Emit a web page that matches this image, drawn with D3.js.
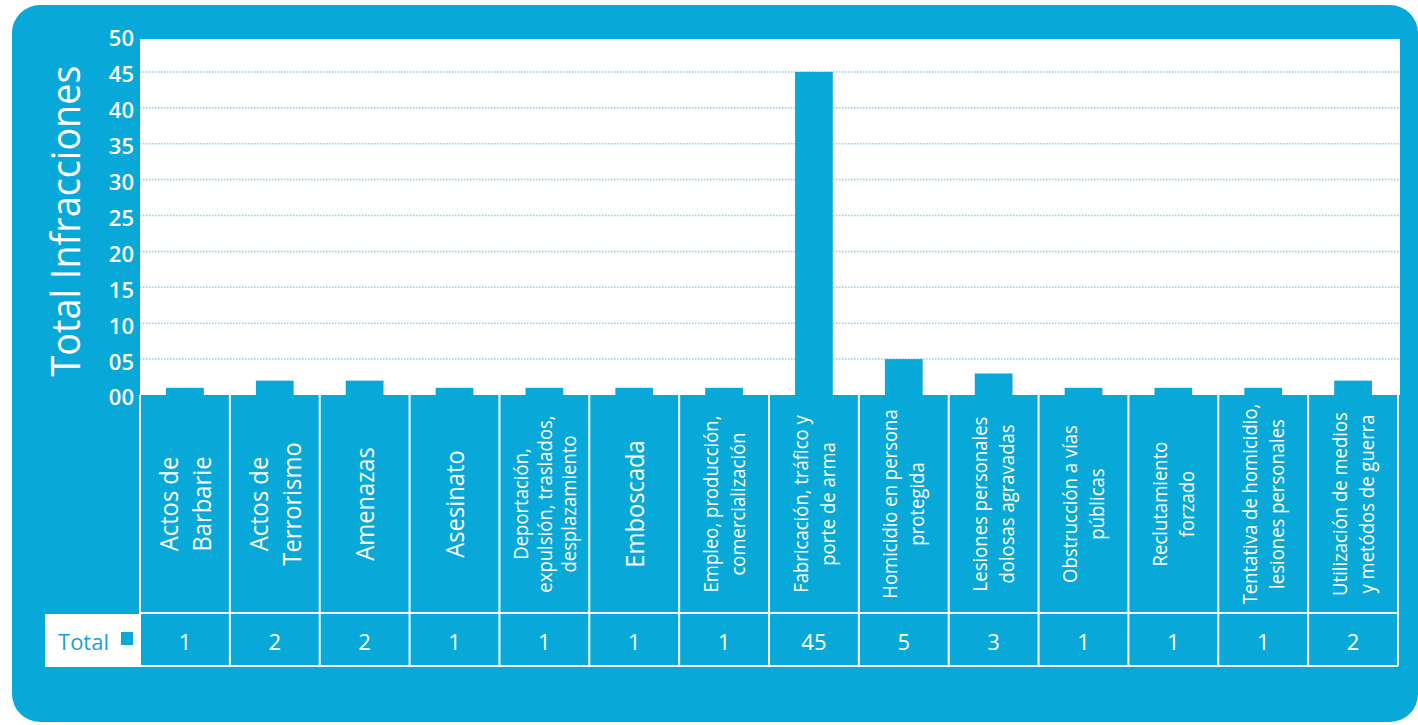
<!DOCTYPE html>
<html>
<head>
<meta charset="utf-8">
<script src="https://cdn.jsdelivr.net/npm/d3@7"></script>
<style>
	body { margin: 0; background: #fff; }
	text { font-family: "Open Sans", "Noto Sans", sans-serif; }
</style>
</head>
<body>
<div id="chart"></div>
<script>
// data
var category_lines = [
	["Actos de", "Barbarie"],
	["Actos de", "Terrorismo"],
	["Amenazas"],
	["Asesinato"],
	["Deportación,", "expulsión, traslados,", "desplazamiento"],
	["Emboscada"],
	["Empleo, producción,", "comercialización"],
	["Fabricación, tráfico y", "porte de arma"],
	["Homicidio en persona", "protegida"],
	["Lesiones personales", "dolosas agravadas"],
	["Obstrucción a vías", "públicas"],
	["Reclutamiento", "forzado"],
	["Tentativa de homicidio,", "lesiones personales"],
	["Utilización de medios", "y metódos de guerra"]
];
var totals = [1, 2, 2, 1, 1, 1, 1, 45, 5, 3, 1, 1, 1, 2];
var y_ticks = [0, 5, 10, 15, 20, 25, 30, 35, 40, 45, 50];
var y_title = "Total Infracciones";
var row_label = "Total";

// magic numbers
var W = 1418, H = 725,
	blue = "#08a8d8",
	plot = {left: 140, right: 1400, top: 39, bottom: 395},
	cells_bottom = 613,
	row_bottom = 666,
	row_left = 45;

var svg = d3.select("#chart").append("svg")
		.attr("width", W)
		.attr("height", H);

// background panel
svg.append("rect")
		.attr("x", 12)
		.attr("y", 5)
		.attr("width", W - 12)
		.attr("height", 717)
		.attr("rx", 28)
		.style("fill", blue);

svg.append("rect")
		.attr("x", plot.left)
		.attr("y", plot.top)
		.attr("width", plot.right - plot.left)
		.attr("height", plot.bottom - plot.top)
		.style("fill", "#fff");

var ids = category_lines.map(function(d, i) { return i; });

var xScale = d3.scaleBand()
		.domain(ids)
		.range([plot.left, 1398])
		.padding(0);

var yScale = d3.scaleLinear()
		.domain([0, 50])
		.range([plot.bottom, 36]);

// gridlines
svg.append("g")
	.selectAll("line")
	.data(y_ticks.filter(function(d) { return d > 0 && d < 50; }))
	.enter().append("line")
		.attr("x1", plot.left)
		.attr("x2", plot.right)
		.attr("y1", function(d) { return yScale(d); })
		.attr("y2", function(d) { return yScale(d); })
		.style("stroke", "#8fcde8")
		.style("stroke-width", 1.5)
		.style("stroke-dasharray", "1.5,1.5");

// y axis
var yAxis = d3.axisLeft()
		.scale(yScale)
		.tickValues(y_ticks)
		.tickFormat(d3.format("02d"))
		.tickSize(0)
		.tickPadding(6);

var yAxisG = svg.append("g")
		.attr("transform", "translate(" + plot.left + ",0)")
		.call(yAxis);
yAxisG.select(".domain").remove();
yAxisG.selectAll("text")
		.attr("dy", "0.45em")
		.style("fill", "#fff")
		.style("font-size", "22px")
		.style("font-weight", 600)
		.style("font-family", "'Open Sans', sans-serif");

svg.append("text")
		.attr("transform", "translate(64," + 221 + ") rotate(-90)")
		.attr("text-anchor", "middle")
		.attr("dominant-baseline", "central")
		.attr("textLength", 311)
		.attr("lengthAdjust", "spacingAndGlyphs")
		.style("fill", "#fff")
		.style("font-size", "40px")
		.text(y_title);

// label cells
svg.append("rect")
		.attr("x", plot.left)
		.attr("y", plot.bottom)
		.attr("width", xScale.range()[1] - plot.left)
		.attr("height", row_bottom - plot.bottom)
		.style("fill", blue);

// bars
var barW = xScale.bandwidth() * 0.42;
svg.append("g")
	.selectAll("rect")
	.data(totals)
	.enter().append("rect")
		.attr("x", function(d, i) { return xScale(i) + (xScale.bandwidth() - barW) / 2; })
		.attr("y", function(d) { return yScale(d); })
		.attr("width", barW)
		.attr("height", function(d) { return yScale(0) - yScale(d) + 1; })
		.style("fill", blue);

// white grid of the table
var lines = svg.append("g").style("stroke", "#fff").style("stroke-width", 2);
xScale.domain().concat([ids.length]).forEach(function(i) {
	var x = i < ids.length ? xScale(i) : xScale.range()[1];
	lines.append("line")
		.attr("x1", x).attr("x2", x)
		.attr("y1", plot.bottom).attr("y2", row_bottom);
});
lines.append("line")
		.attr("x1", plot.left).attr("x2", xScale.range()[1])
		.attr("y1", cells_bottom).attr("y2", cells_bottom);
lines.append("line")
		.attr("x1", row_left).attr("x2", xScale.range()[1])
		.attr("y1", row_bottom).attr("y2", row_bottom);

// category labels, rotated
var cellMid = (plot.bottom + cells_bottom) / 2;
var labels = svg.append("g");
category_lines.forEach(function(ls, i) {
	var big = d3.max(ls, function(l) { return l.length; }) <= 10;
	var size = big ? 25 : 19.5;
	var step = big ? 33 : (ls.length > 2 ? 24 : 27);
	var cx = xScale(i) + xScale.bandwidth() / 2;
	ls.forEach(function(l, j) {
		var off = (j - (ls.length - 1) / 2) * step;
		labels.append("text")
			.attr("transform", "translate(" + (cx + off) + "," + cellMid + ") rotate(-90) scale(0.95,1)")
			.attr("text-anchor", "middle")
			.attr("dominant-baseline", "central")
			.style("fill", "#fff")
			.style("font-size", size + "px")
			.text(l);
	});
});

// total row
svg.append("rect")
		.attr("x", row_left)
		.attr("y", cells_bottom + 1)
		.attr("width", plot.left - row_left)
		.attr("height", row_bottom - cells_bottom - 1)
		.style("fill", "#fff");

svg.append("text")
		.attr("x", 109)
		.attr("y", (cells_bottom + row_bottom) / 2 + 1)
		.attr("text-anchor", "end")
		.attr("dominant-baseline", "central")
		.style("fill", "#1c9fcc")
		.style("font-size", "22px")
		.text(row_label);

svg.append("rect")
		.attr("x", 121)
		.attr("y", 632)
		.attr("width", 12)
		.attr("height", 13)
		.style("fill", blue);

svg.append("g")
	.selectAll("text")
	.data(totals)
	.enter().append("text")
		.attr("x", function(d, i) { return xScale(i) + xScale.bandwidth() / 2; })
		.attr("y", (cells_bottom + row_bottom) / 2 + 1)
		.attr("text-anchor", "middle")
		.attr("dominant-baseline", "central")
		.style("fill", "#fff")
		.style("font-size", "22px")
		.text(function(d) { return d; });
</script>
</body>
</html>
